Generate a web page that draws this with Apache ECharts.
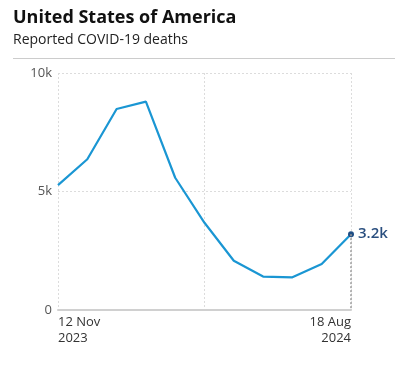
<!DOCTYPE html>
<html><head><meta charset="utf-8">
<script src="https://cdn.jsdelivr.net/npm/echarts@6/dist/echarts.min.js"></script>
<style>html,body{margin:0;padding:0;background:#fff}#c{width:395px;height:371px}</style>
</head><body><div id="c"></div>
<script>
const weeks = ['12 Nov 2023','10 Dec 2023','7 Jan 2024','4 Feb 2024','3 Mar 2024','31 Mar 2024','28 Apr 2024','26 May 2024','23 Jun 2024','21 Jul 2024','18 Aug 2024'];
const deaths = [5270, 6360, 8480, 8790, 5580, 3680, 2080, 1410, 1380, 1940, 3200];
const yTicks = {0:'0', 5000:'5k', 10000:'10k'};
const endLabel = '3.2k';
const xLabels = {0:'12 Nov\n2023', 10:'18 Aug\n2024'};

const FONT = '"Open Sans", "Noto Sans", sans-serif';
const last = deaths.length - 1;
const chart = echarts.init(document.getElementById('c'), null, {renderer:'canvas'});
chart.setOption({
  animation:false,
  textStyle:{fontFamily:FONT},
  title:[{
    text:'United States of America', left:13, top:9, padding:0,
    textStyle:{fontFamily:FONT, fontSize:18, fontWeight:'bold', color:'#111'}
  },{
    text:'Reported COVID-19 deaths', left:13, top:33, padding:0,
    textStyle:{fontFamily:FONT, fontSize:14, fontWeight:'normal', color:'#222'}
  }],
  graphic:[{type:'line', shape:{x1:13,y1:58.5,x2:395,y2:58.5}, style:{stroke:'#cccccc', lineWidth:1}}],
  grid:{left:58, right:44, top:73, bottom:61, containLabel:false},
  xAxis:{
    type:'category', data:weeks, boundaryGap:false,
    axisLine:{show:true, lineStyle:{color:'#d0d0d0', width:2}},
    axisTick:{show:false},
    axisLabel:{
      interval:0, margin:4, color:'#333', fontSize:13, lineHeight:16, fontFamily:FONT,
      formatter:(v,i)=> xLabels[i] || '',
      alignMinLabel:'left', alignMaxLabel:'right'
    },
    splitLine:{show:true, interval:(i)=> i===0 || i===5 || i===10, lineStyle:{color:'#dcdcdc', type:[2,2], width:1}}
  },
  yAxis:{
    type:'value', min:0, max:10000, interval:5000,
    axisLine:{show:false}, axisTick:{show:false},
    axisLabel:{margin:6, color:'#555', fontSize:13, fontFamily:FONT, formatter:(v)=> yTicks[v] ?? ''},
    splitLine:{show:true, lineStyle:{color:'#dcdcdc', type:[2,2], width:1}}
  },
  series:[{
    type:'line', showSymbol:true, symbol:'none',
    lineStyle:{color:'#1a96d3', width:2.2},
    data: deaths.map((v,i)=> i===last ? {
      value:v, symbol:'circle', symbolSize:6,
      itemStyle:{color:'#1f4e85'},
      label:{show:true, position:'right', distance:4, formatter:endLabel, color:'#2a4f7f', fontSize:15, fontWeight:600, fontFamily:FONT}
    } : v),
    markLine:{
      silent:true, symbol:'none', label:{show:false},
      lineStyle:{color:'#999', type:[2,2], width:1.5},
      data:[[{coord:[last, deaths[last]]},{coord:[last, 0]}]]
    }
  }]
});
</script></body></html>
